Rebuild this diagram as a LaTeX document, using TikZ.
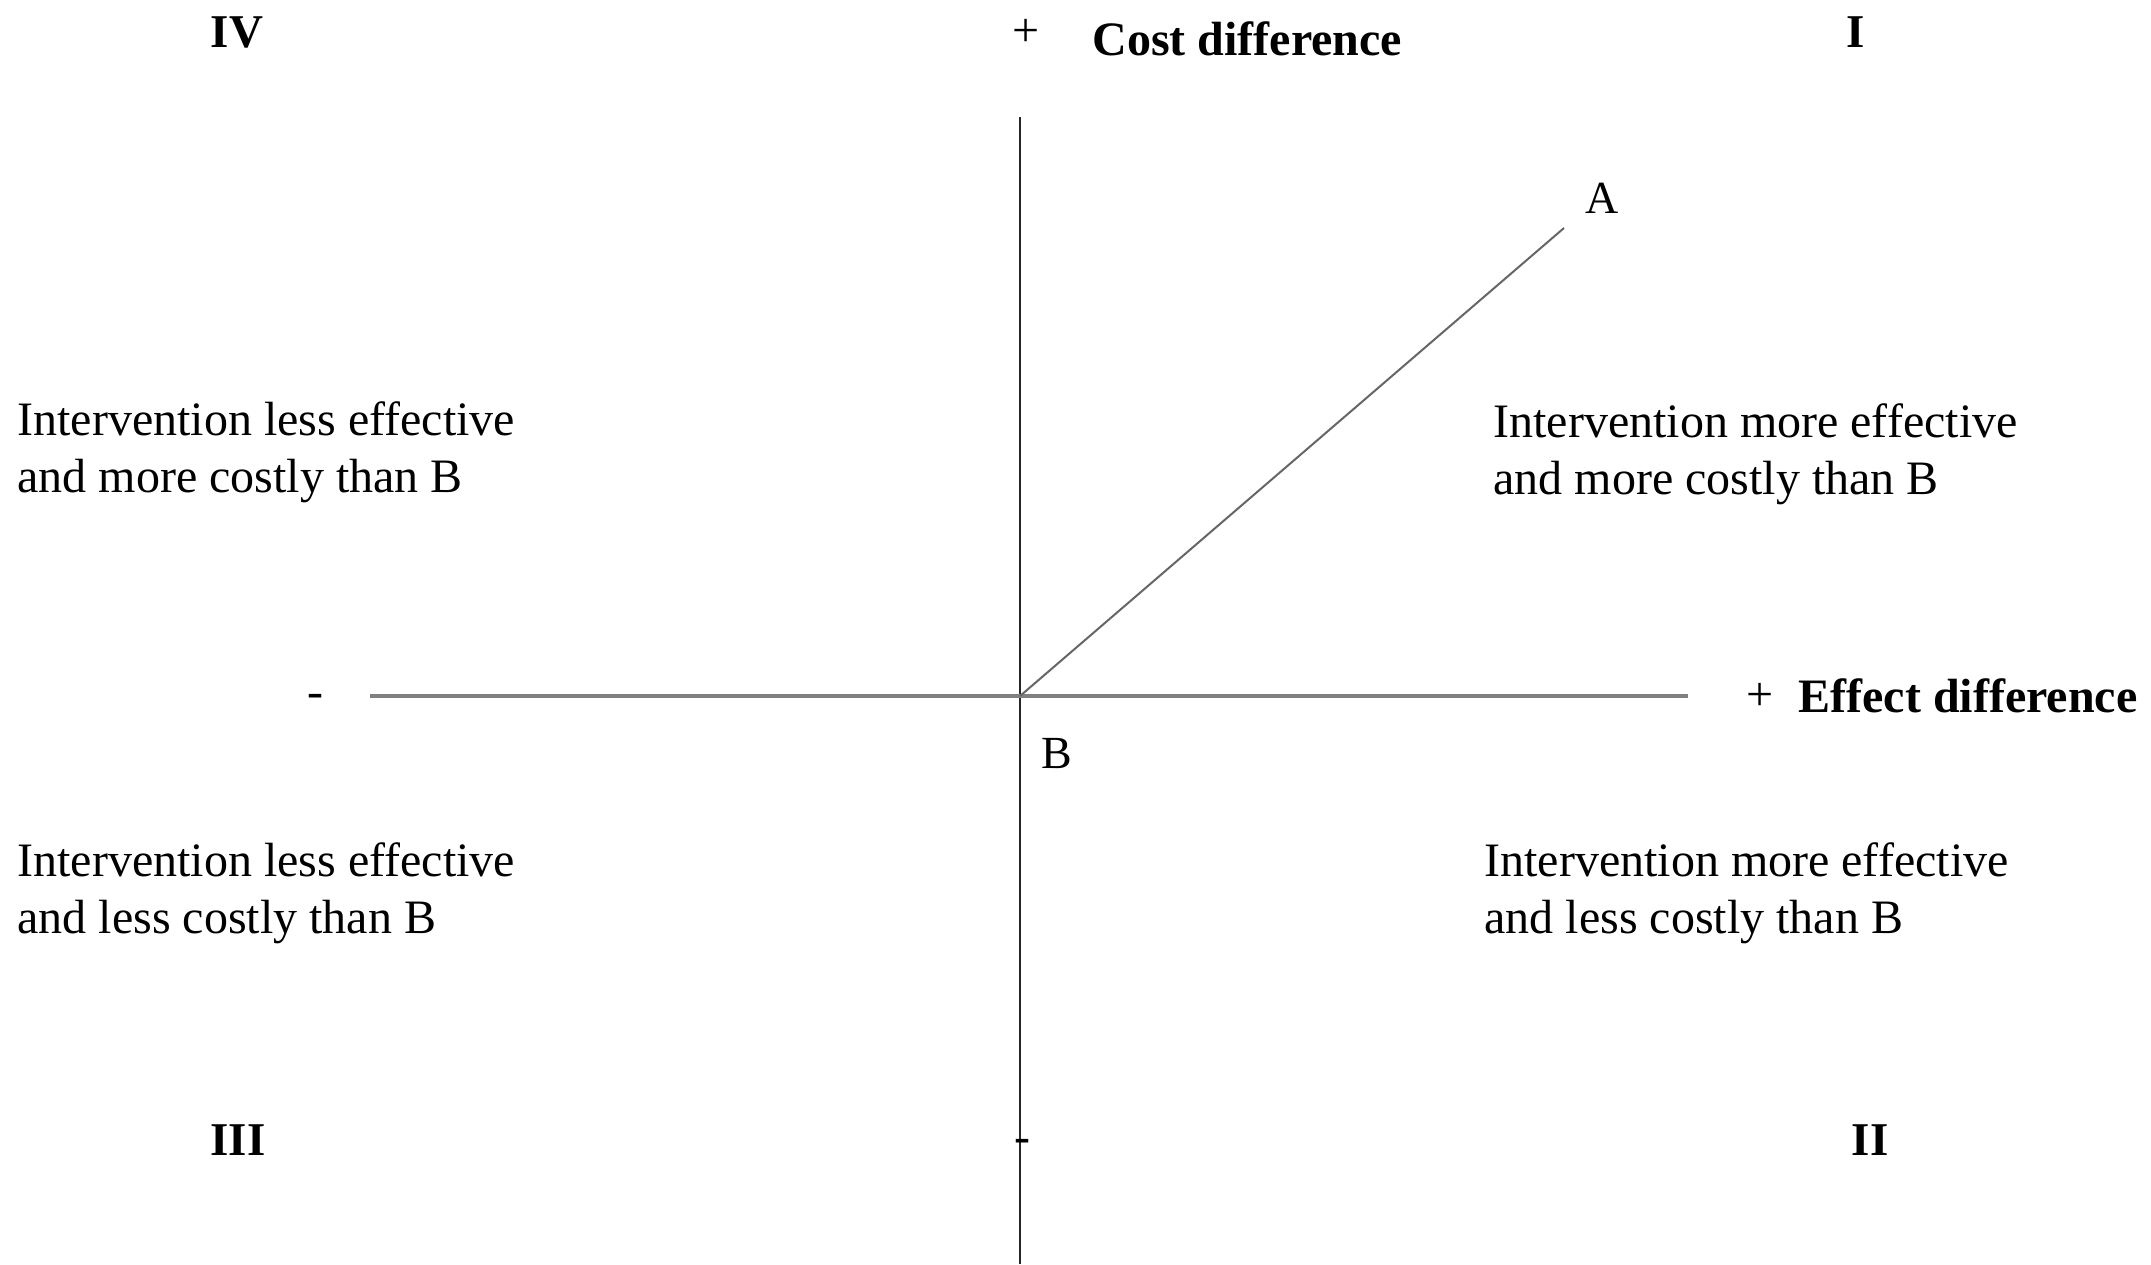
\documentclass[tikz,border=0pt]{standalone}
\usepackage{fontspec}
\setmainfont{Liberation Serif}

\tikzstyle{quadtext} = [font=\fontsize{24}{28.5}\selectfont, align=left, anchor=base west, inner sep=0pt]
\tikzstyle{axistitle} = [font=\fontsize{24}{28}\selectfont\bfseries, anchor=base west, inner sep=0pt]
\tikzstyle{numeral} = [font=\fontsize{23.5}{28}\selectfont\bfseries, anchor=base, inner sep=0pt]
\tikzstyle{sign} = [font=\fontsize{24}{26}\selectfont, inner sep=0pt]
\tikzstyle{pointname} = [font=\fontsize{23}{26}\selectfont, anchor=base, inner sep=0pt]
\tikzstyle{costaxis} = [draw, line width=1.4pt, black!85]
\tikzstyle{effectaxis} = [draw, line width=2.3pt, gray]
\tikzstyle{ratio} = [draw, line width=1pt, black!60]

\begin{document}
\begin{tikzpicture}[x=0.5pt, y=-0.5pt]
      \useasboundingbox (0,0) rectangle (2151,1264);
      %% axes
      \coordinate (o) at (1020,696);
      \coordinate (costtop) at (1020,117);
      \coordinate (costbottom) at (1020,1264);
      \coordinate (effectleft) at (370,696);
      \coordinate (effectright) at (1688,696);
      \coordinate (a) at (1564,228);
      \path[costaxis] (costtop) -- (costbottom);
      \path[effectaxis] (effectleft) -- (effectright);
      \path[ratio] (o) -- (a);

      % signs and axis titles
      \node[sign] (costplus) at (1026,33) {+};
      \node[sign] (costminus) at (1022,1146) {-};
      \node[sign] (effectplus) at (1760,697) {+};
      \node[sign] (effectminus) at (315,701) {-};
      \node[axistitle] (costtitle) at (1092,55) {Cost difference};
      \node[axistitle] (effecttitle) at (1798,712) {Effect difference};
      \node[pointname] (Alabel) at (1602,213) {A};
      \node[pointname] (Blabel) at (1057,768) {B};

      % quadrant numbers
      \foreach \nodename/\numtext/\x/\y in {
        one/I/1856/47, two/II/1870/1155, three/III/238/1155, four/IV/237/47}
      {
        \node[numeral] (\nodename) at (\x,\y) {\numtext};
      }

      % quadrant texts (placed by the baseline of the second line)
      \foreach \nodename/\x/\y/\first/\second in {
        textone/1493/494/Intervention more effective/and more costly than B,
        texttwo/1484/933/Intervention more effective/and less costly than B,
        textthree/17/933/Intervention less effective/and less costly than B,
        textfour/17/492/Intervention less effective/and more costly than B}
      {
        \node[quadtext] (\nodename) at (\x,\y) {\first\\\second};
      }
\end{tikzpicture}
\end{document}
